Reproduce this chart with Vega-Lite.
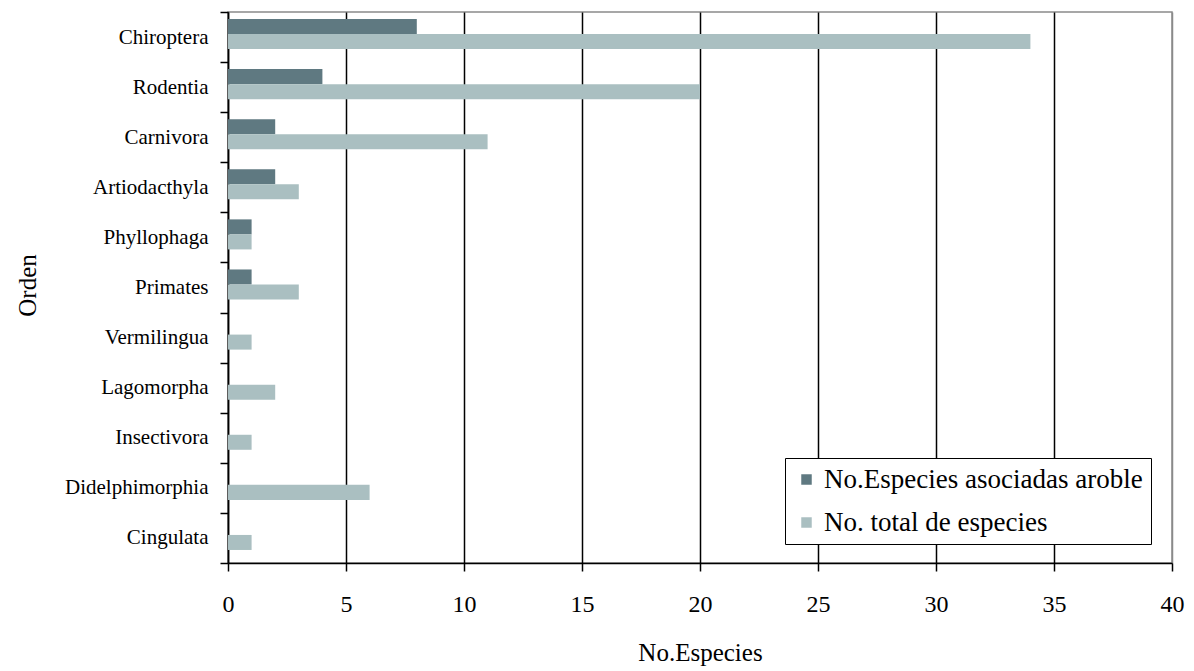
{
  "$schema": "https://vega.github.io/schema/vega-lite/v6.json",
  "autosize": {"type": "none"},
  "padding": {"left": 228, "top": 12, "right": 22, "bottom": 108},
  "width": 944,
  "height": 551,
  "background": "white",
  "config": {
    "font": "Liberation Serif",
    "view": {"stroke": "#8a8a8a", "strokeWidth": 1.5},
    "axis": {"labelFont": "Liberation Serif", "titleFont": "Liberation Serif"},
    "legend": {"labelFont": "Liberation Serif", "titleFont": "Liberation Serif"}
  },
  "data": {
    "values": [
      {"orden": "Chiroptera", "serie": "No.Especies asociadas aroble", "n": 8},
      {"orden": "Chiroptera", "serie": "No. total de especies", "n": 34},
      {"orden": "Rodentia", "serie": "No.Especies asociadas aroble", "n": 4},
      {"orden": "Rodentia", "serie": "No. total de especies", "n": 20},
      {"orden": "Carnivora", "serie": "No.Especies asociadas aroble", "n": 2},
      {"orden": "Carnivora", "serie": "No. total de especies", "n": 11},
      {"orden": "Artiodacthyla", "serie": "No.Especies asociadas aroble", "n": 2},
      {"orden": "Artiodacthyla", "serie": "No. total de especies", "n": 3},
      {"orden": "Phyllophaga", "serie": "No.Especies asociadas aroble", "n": 1},
      {"orden": "Phyllophaga", "serie": "No. total de especies", "n": 1},
      {"orden": "Primates", "serie": "No.Especies asociadas aroble", "n": 1},
      {"orden": "Primates", "serie": "No. total de especies", "n": 3},
      {"orden": "Vermilingua", "serie": "No.Especies asociadas aroble", "n": 0},
      {"orden": "Vermilingua", "serie": "No. total de especies", "n": 1},
      {"orden": "Lagomorpha", "serie": "No.Especies asociadas aroble", "n": 0},
      {"orden": "Lagomorpha", "serie": "No. total de especies", "n": 2},
      {"orden": "Insectivora", "serie": "No.Especies asociadas aroble", "n": 0},
      {"orden": "Insectivora", "serie": "No. total de especies", "n": 1},
      {"orden": "Didelphimorphia", "serie": "No.Especies asociadas aroble", "n": 0},
      {"orden": "Didelphimorphia", "serie": "No. total de especies", "n": 6},
      {"orden": "Cingulata", "serie": "No.Especies asociadas aroble", "n": 0},
      {"orden": "Cingulata", "serie": "No. total de especies", "n": 1}
    ]
  },
  "mark": {"type": "bar"},
  "encoding": {
    "y": {
      "field": "orden",
      "type": "nominal",
      "sort": ["Chiroptera", "Rodentia", "Carnivora", "Artiodacthyla", "Phyllophaga", "Primates", "Vermilingua", "Lagomorpha", "Insectivora", "Didelphimorphia", "Cingulata"],
      "scale": {"paddingInner": 0, "paddingOuter": 0},
      "axis": {
        "title": "Orden",
        "titleFont": "Liberation Serif",
        "titleFontSize": 25,
        "titleFontWeight": "normal",
        "titleColor": "black",
        "titleAngle": 270,
        "titleAlign": "center",
        "titleBaseline": "middle",
        "titleX": -201,
        "titleY": 273,
        "labelFont": "Liberation Serif",
        "labelFontSize": 21,
        "labelColor": "black",
        "labelPadding": 12,
        "labelLimit": 300,
        "tickBand": "extent",
        "tickSize": 8,
        "tickColor": "black",
        "tickWidth": 1.5,
        "domainColor": "black",
        "domainWidth": 1.5,
        "grid": false
      }
    },
    "yOffset": {
      "field": "serie",
      "type": "nominal",
      "sort": ["No.Especies asociadas aroble", "No. total de especies"],
      "scale": {"paddingInner": 0, "paddingOuter": 0.667, "align": 0.35}
    },
    "x": {
      "field": "n",
      "type": "quantitative",
      "scale": {"domain": [0, 40], "nice": false},
      "axis": {
        "title": "No.Especies",
        "titleFont": "Liberation Serif",
        "titleFontSize": 25,
        "titleFontWeight": "normal",
        "titleColor": "black",
        "titleBaseline": "middle",
        "titleY": 89,
        "values": [0, 5, 10, 15, 20, 25, 30, 35, 40],
        "labelFont": "Liberation Serif",
        "labelFontSize": 24,
        "labelColor": "black",
        "labelPadding": 21,
        "labelFlush": false,
        "tickSize": 8,
        "tickColor": "black",
        "tickWidth": 1.5,
        "domainColor": "black",
        "domainWidth": 1.5,
        "grid": true,
        "gridColor": {"condition": {"test": "datum.value === 40", "value": "#8a8a8a"}, "value": "black"},
        "gridWidth": 1.5
      }
    },
    "color": {
      "field": "serie",
      "type": "nominal",
      "sort": ["No.Especies asociadas aroble", "No. total de especies"],
      "scale": {"range": ["#5f7981", "#aabfc1"]},
      "legend": {
        "title": null,
        "orient": "none",
        "legendX": 557,
        "legendY": 446,
        "direction": "vertical",
        "symbolType": "square",
        "symbolSize": 110,
        "symbolStrokeWidth": 0,
        "labelFont": "Liberation Serif",
        "labelFontSize": 27,
        "labelColor": "black",
        "labelLimit": 500,
        "labelOffset": 4,
        "rowPadding": 15,
        "padding": 8,
        "strokeColor": "black",
        "fillColor": "white"
      }
    }
  }
}
